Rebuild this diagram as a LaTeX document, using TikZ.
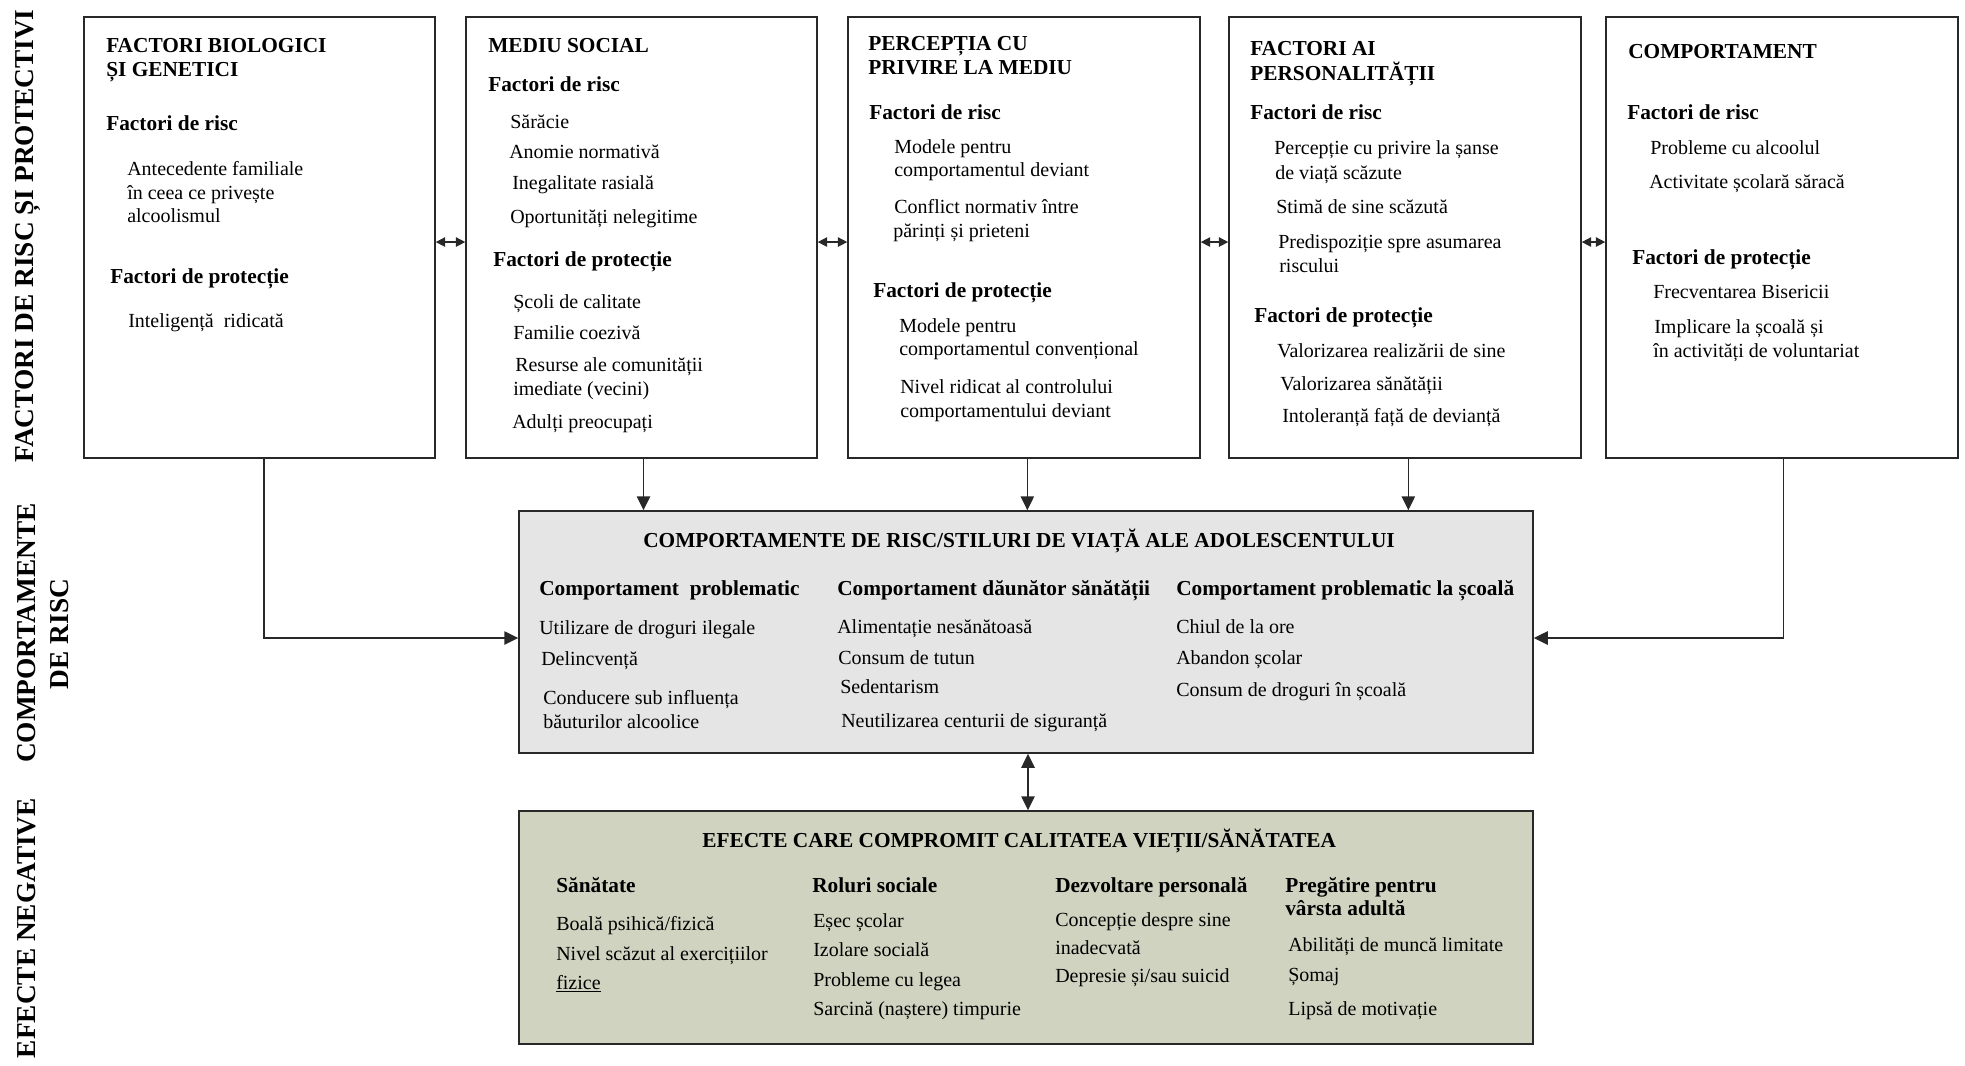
\documentclass[tikz,border=0pt]{standalone}
\usepackage{fontspec}
\setmainfont{Liberation Serif}
\usetikzlibrary{arrows.meta,fit}
\definecolor{riskfill}{RGB}{229,229,229}
\definecolor{effectfill}{RGB}{208,211,192}
\definecolor{edge}{RGB}{40,40,40}
\begin{document}
\begin{tikzpicture}[x=0.75pt,y=-0.75pt,
  panel/.style={draw=edge, line width=1.1pt, inner sep=0pt},
  body/.style={anchor=base west, inner sep=0pt, font=\fontsize{15}{18}\selectfont},
  head/.style={anchor=base west, inner sep=0pt, font=\fontsize{16}{19}\selectfont\bfseries},
  side/.style={anchor=base, rotate=90, inner sep=0pt, font=\fontsize{20.5}{24}\selectfont\bfseries},
  link/.style={line width=1.1pt, draw=edge, -{Triangle[length=10.5pt,width=10pt]}},
  pair/.style={line width=1.1pt, draw=edge, {Triangle[length=7pt,width=7pt]}-{Triangle[length=7pt,width=7pt]}},
]
\useasboundingbox (0,0) rectangle (1965,1065);

% side labels
\node[side] (lab1) at (33,236) {FACTORI DE RISC ȘI PROTECTIVI};
\node[side] (lab2) at (35,633) {COMPORTAMENTE};
\node[side] (lab3) at (68,634) {DE RISC};
\node[side] (lab4) at (36,928) {EFECTE NEGATIVE};

% panels
\node[panel, fit={(84,17) (435,458)}] (b1) {};
\node[panel, fit={(466,17) (817,458)}] (b2) {};
\node[panel, fit={(848,17) (1200,458)}] (b3) {};
\node[panel, fit={(1229,17) (1581,458)}] (b4) {};
\node[panel, fit={(1606,17) (1958,458)}] (b5) {};
\node[panel, fill=riskfill, fit={(519,511) (1533,753)}] (risk) {};
\node[panel, fill=effectfill, fit={(519,811) (1533,1044)}] (eff) {};

% biological and genetic factors
\node[head] (b1a) at (106,52) {FACTORI BIOLOGICI};
\node[head] (b1b) at (106,76) {ȘI GENETICI};
\node[head] (b1c) at (106,130) {Factori de risc};
\node[body] (b1d) at (127,175) {Antecedente familiale};
\node[body] (b1e) at (127,199) {în ceea ce privește};
\node[body] (b1f) at (127,222) {alcoolismul};
\node[head] (b1g) at (110,283) {Factori de protecție};
\node[body] (b1h) at (128,327) {Inteligență\ \ ridicată};

% social environment
\node[head] (b2a) at (488,52) {MEDIU SOCIAL};
\node[head] (b2b) at (488,91) {Factori de risc};
\node[body] (b2c) at (510,128) {Sărăcie};
\node[body] (b2d) at (509,158) {Anomie normativă};
\node[body] (b2e) at (512,189) {Inegalitate rasială};
\node[body] (b2f) at (510,223) {Oportunități nelegitime};
\node[head] (b2g) at (493,266) {Factori de protecție};
\node[body] (b2h) at (513,308) {Școli de calitate};
\node[body] (b2i) at (513,339) {Familie coezivă};
\node[body] (b2j) at (515,371) {Resurse ale comunității};
\node[body] (b2k) at (513,395) {imediate (vecini)};
\node[body] (b2l) at (512,428) {Adulți preocupați};

% perceived environment
\node[head] (b3a) at (868,50) {PERCEPȚIA CU};
\node[head] (b3b) at (868,74) {PRIVIRE LA MEDIU};
\node[head] (b3c) at (869,119) {Factori de risc};
\node[body] (b3d) at (894,153) {Modele pentru};
\node[body] (b3e) at (894,176) {comportamentul deviant};
\node[body] (b3f) at (894,213) {Conflict normativ între};
\node[body] (b3g) at (893,237) {părinți și prieteni};
\node[head] (b3h) at (873,297) {Factori de protecție};
\node[body] (b3i) at (899,332) {Modele pentru};
\node[body] (b3j) at (899,355) {comportamentul convențional};
\node[body] (b3k) at (900,393) {Nivel ridicat al controlului};
\node[body] (b3l) at (900,417) {comportamentului deviant};

% personality factors
\node[head] (b4a) at (1250,55) {FACTORI AI};
\node[head] (b4b) at (1250,80) {PERSONALITĂȚII};
\node[head] (b4c) at (1250,119) {Factori de risc};
\node[body] (b4d) at (1274,154) {Percepție cu privire la șanse};
\node[body] (b4e) at (1275,179) {de viață scăzute};
\node[body] (b4f) at (1276,213) {Stimă de sine scăzută};
\node[body] (b4g) at (1278,248) {Predispoziție spre asumarea};
\node[body] (b4h) at (1279,272) {riscului};
\node[head] (b4i) at (1254,322) {Factori de protecție};
\node[body] (b4j) at (1277,357) {Valorizarea realizării de sine};
\node[body] (b4k) at (1280,390) {Valorizarea sănătății};
\node[body] (b4l) at (1282,422) {Intoleranță față de devianță};

% behaviour
\node[head] (b5a) at (1628,58) {COMPORTAMENT};
\node[head] (b5b) at (1627,119) {Factori de risc};
\node[body] (b5c) at (1650,154) {Probleme cu alcoolul};
\node[body] (b5d) at (1649,188) {Activitate școlară săracă};
\node[head] (b5e) at (1632,264) {Factori de protecție};
\node[body] (b5f) at (1653,298) {Frecventarea Bisericii};
\node[body] (b5g) at (1654,333) {Implicare la școală și};
\node[body] (b5h) at (1653,357) {în activități de voluntariat};

% risk behaviours
\node[head] (r0) at (643,547) {COMPORTAMENTE DE RISC/STILURI DE VIAȚĂ ALE ADOLESCENTULUI};
\node[head] (r1) at (539,595) {Comportament\ \ problematic};
\node[head] (r2) at (837,595) {Comportament dăunător sănătății};
\node[head] (r3) at (1176,595) {Comportament problematic la școală};
\node[body] (r1a) at (539,634) {Utilizare de droguri ilegale};
\node[body] (r1b) at (541,665) {Delincvență};
\node[body] (r1c) at (543,704) {Conducere sub influența};
\node[body] (r1d) at (543,728) {băuturilor alcoolice};
\node[body] (r2a) at (837,633) {Alimentație nesănătoasă};
\node[body] (r2b) at (838,664) {Consum de tutun};
\node[body] (r2c) at (840,693) {Sedentarism};
\node[body] (r2d) at (841,727) {Neutilizarea centurii de siguranță};
\node[body] (r3a) at (1176,633) {Chiul de la ore};
\node[body] (r3b) at (1176,664) {Abandon școlar};
\node[body] (r3c) at (1176,696) {Consum de droguri în școală};

% negative effects
\node[head] (e0) at (702,847) {EFECTE CARE COMPROMIT CALITATEA VIEȚII/SĂNĂTATEA};
\node[head] (e1) at (556,892) {Sănătate};
\node[head] (e2) at (812,892) {Roluri sociale};
\node[head] (e3) at (1055,892) {Dezvoltare personală};
\node[head] (e4) at (1285,892) {Pregătire pentru};
\node[head] (e4b) at (1285,915) {vârsta adultă};
\node[body] (e1a) at (556,930) {Boală psihică/fizică};
\node[body] (e1b) at (556,960) {Nivel scăzut al exercițiilor};
\node[body] (e1c) at (556,989) {\underline{fizice}};
\node[body] (e2a) at (813,927) {Eșec școlar};
\node[body] (e2b) at (813,956) {Izolare socială};
\node[body] (e2c) at (813,986) {Probleme cu legea};
\node[body] (e2d) at (813,1015) {Sarcină (naștere) timpurie};
\node[body] (e3a) at (1055,926) {Concepție despre sine};
\node[body] (e3b) at (1055,954) {inadecvată};
\node[body] (e3c) at (1055,982) {Depresie și/sau suicid};
\node[body] (e4a) at (1288,951) {Abilități de muncă limitate};
\node[body] (e4c) at (1288,981) {Șomaj};
\node[body] (e4d) at (1288,1015) {Lipsă de motivație};

% connectors
\draw[pair] ([yshift=-3.4pt]b1.east) -- ([yshift=-3.4pt]b2.west);
\draw[pair] ([yshift=-3.4pt]b2.east) -- ([yshift=-3.4pt]b3.west);
\draw[pair] ([yshift=-3.4pt]b3.east) -- ([yshift=-3.4pt]b4.west);
\draw[pair] ([yshift=-3.4pt]b4.east) -- ([yshift=-3.4pt]b5.west);
\draw[link] ([xshift=1.5pt]b2.south) -- ([xshift=1.5pt]b2.south |- risk.north);
\draw[link] ([xshift=2.5pt]b3.south) -- ([xshift=2.5pt]b3.south |- risk.north);
\draw[link] ([xshift=2.5pt]b4.south) -- ([xshift=2.5pt]b4.south |- risk.north);
\draw[link] ([xshift=3.4pt]b1.south) |- ([yshift=-4.5pt]risk.west);
\draw[link] ([xshift=1.2pt]b5.south) |- ([yshift=-4.5pt]risk.east);
\draw[line width=1.1pt, draw=edge, {Triangle[length=10.5pt,width=10pt]}-{Triangle[length=10.5pt,width=10pt]}] ([xshift=1.5pt]risk.south) -- ([xshift=1.5pt]eff.north);
\end{tikzpicture}
\end{document}
